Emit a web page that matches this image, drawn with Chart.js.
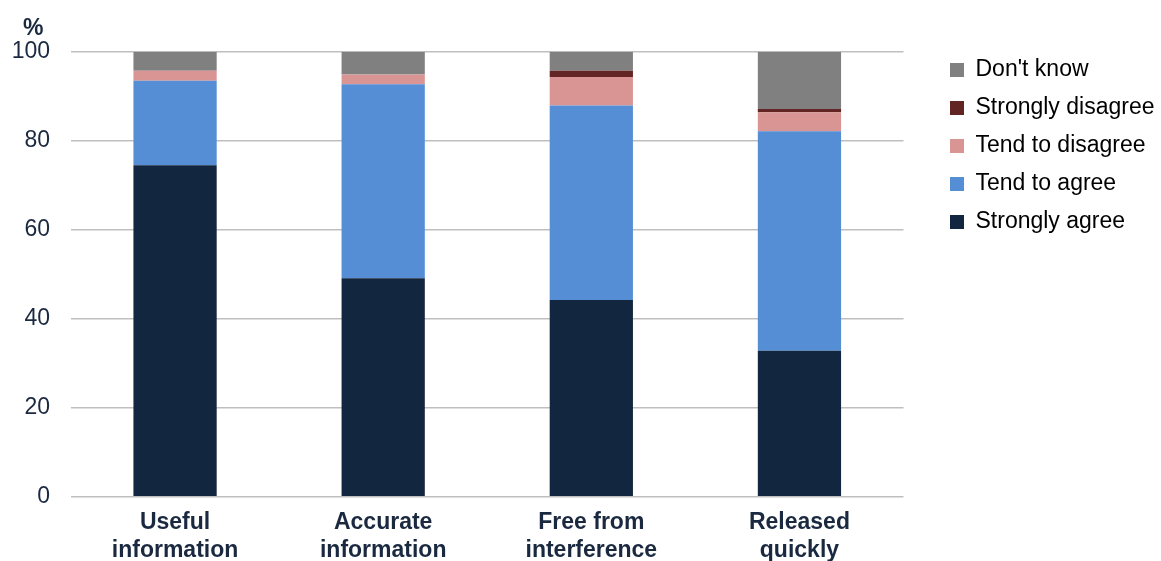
<!DOCTYPE html>
<html>
<head>
<meta charset="utf-8">
<script src="https://cdn.jsdelivr.net/npm/chart.js@4/dist/chart.umd.min.js"></script>
<style>
  html, body { margin: 0; padding: 0; background: #ffffff; }
  #wrap { width: 1161px; height: 561px; }
</style>
</head>
<body>
<div id="wrap"><canvas id="c" width="1161" height="561"></canvas></div>
<script>
const categories = [["Useful", "information"], ["Accurate", "information"], ["Free from", "interference"], ["Released", "quickly"]];
const stronglyAgree    = [74.5, 49.1, 44.2, 32.8];
const tendToAgree      = [19.0, 43.6, 43.7, 49.3];
const tendToDisagree   = [2.2, 2.2, 6.4, 4.3];
const stronglyDisagree = [0.0, 0.0, 1.4, 0.7];
const dontKnow         = [4.3, 5.1, 4.3, 12.9];
const yTicks = [0, 20, 40, 60, 80, 100];

const navy = '#1a2940';
Chart.defaults.font.family = "'Liberation Sans', Arial, sans-serif";

const placePlugin = {
  id: 'place',
  afterLayout(chart) {
    const t = chart.titleBlock;
    if (t) { const dx = 23 - t.left; t.left += dx; t.right += dx; }
    const lg = chart.legend;
    if (lg) {
      const dy = 43.5 - lg.top; lg.top += dy; lg.bottom += dy;
      const dx = 935 - lg.left; lg.left += dx; lg.right += dx;
    }
  }
};

new Chart(document.getElementById('c'), {
  type: 'bar',
  data: {
    labels: categories,
    datasets: [
      { label: 'Strongly agree', data: stronglyAgree, backgroundColor: '#13263f' },
      { label: 'Tend to agree', data: tendToAgree, backgroundColor: '#558ed5' },
      { label: 'Tend to disagree', data: tendToDisagree, backgroundColor: '#d99594' },
      { label: 'Strongly disagree', data: stronglyDisagree, backgroundColor: '#632523' },
      { label: "Don't know", data: dontKnow, backgroundColor: '#808080' }
    ]
  },
  options: {
    responsive: false,
    animation: false,
    layout: { padding: { left: 0, right: 28, top: 0, bottom: 0 } },
    datasets: { bar: { categoryPercentage: 1.0, barPercentage: 0.4, borderWidth: 0 } },
    plugins: {
      title: {
        display: true, text: '%', align: 'start', color: navy,
        font: { size: 23, weight: 'bold' },
        padding: { top: 15, bottom: 9.1 }
      },
      legend: {
        position: 'right', align: 'start', reverse: true,
        labels: {
          boxWidth: 14, boxHeight: 14, padding: 15, color: '#000000',
          font: { size: 23 }
        }
      },
      tooltip: { enabled: false }
    },
    scales: {
      x: {
        stacked: true,
        grid: { display: false, drawTicks: false },
        border: { display: false },
        ticks: { color: navy, font: { size: 23, weight: 'bold' }, padding: 12.5, maxRotation: 0, autoSkip: false },
        afterFit(scale) { scale.height = 64.3; }
      },
      y: {
        stacked: true,
        min: 0, max: 100,
        afterBuildTicks(scale) { scale.ticks = yTicks.map(v => ({ value: v })); },
        grid: { color: '#bfbfbf', lineWidth: 1.5, drawTicks: false },
        border: { display: false },
        ticks: { color: navy, font: { size: 23 }, padding: 21 },
        afterFit(scale) { scale.width = 71; }
      }
    }
  },
  plugins: [placePlugin]
});
</script>
</body>
</html>
